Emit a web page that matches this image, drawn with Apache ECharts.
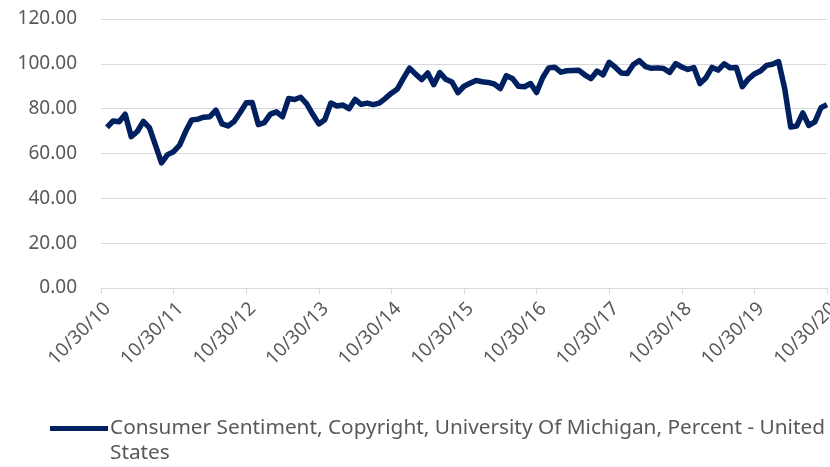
<!DOCTYPE html>
<html>
<head>
    <meta charset="utf-8"/>
    <title>Consumer Sentiment</title>
    <script src="https://cdn.jsdelivr.net/npm/echarts@6/dist/echarts.min.js"></script>
    <style>
        html, body { margin: 0; padding: 0; background: #fff; }
        #chart { width: 830px; height: 467px; }
    </style>
</head>
<body>
<div id="chart"></div>
<script>
    // monthly values, Nov 2010 .. Oct 2020
    var v2010 = [71.6, 74.5];
    var v2011 = [74.2, 77.5, 67.5, 69.8, 74.3, 71.5, 63.7, 55.8, 59.5, 60.8, 63.7, 69.9];
    var v2012 = [75.0, 75.3, 76.2, 76.4, 79.3, 73.2, 72.3, 74.3, 78.3, 82.6, 82.7, 72.9];
    var v2013 = [73.8, 77.6, 78.6, 76.4, 84.5, 84.1, 85.1, 82.1, 77.5, 73.2, 75.1, 82.5];
    var v2014 = [81.2, 81.6, 80.0, 84.1, 81.9, 82.5, 81.8, 82.5, 84.6, 86.9, 88.8, 93.6];
    var v2015 = [98.1, 95.4, 93.0, 95.9, 90.7, 96.1, 93.1, 91.9, 87.2, 90.0, 91.3, 92.6];
    var v2016 = [92.0, 91.7, 91.0, 89.0, 94.7, 93.5, 90.0, 89.8, 91.2, 87.2, 93.8, 98.2];
    var v2017 = [98.5, 96.3, 96.9, 97.0, 97.1, 95.0, 93.4, 96.8, 95.1, 100.7, 98.5, 95.9];
    var v2018 = [95.7, 99.7, 101.4, 98.8, 98.0, 98.2, 97.9, 96.2, 100.1, 98.6, 97.5, 98.3];
    var v2019 = [91.2, 93.8, 98.4, 97.2, 100.0, 98.2, 98.4, 89.8, 93.2, 95.5, 96.8, 99.3];
    var v2020 = [99.8, 101.0, 89.1, 71.8, 72.3, 78.1, 72.5, 74.1, 80.4, 81.8];

    var years = ['10', '11', '12', '13', '14', '15', '16', '17', '18', '19', '20'];
    var seriesName = 'Consumer Sentiment, Copyright, University Of Michigan, Percent - United States';

    // axis runs Oct 2010 .. Oct 2020, first month has no value
    var cats = [];
    for (var y = 0; y < years.length; y++) {
        for (var m = 1; m <= 12; m++) {
            if (y === 0 && m < 10) continue;
            if (y === years.length - 1 && m > 10) continue;
            cats.push(m + '/30/' + years[y]);
        }
    }
    var values = [null].concat(v2010, v2011, v2012, v2013, v2014, v2015,
        v2016, v2017, v2018, v2019, v2020);

    var font = 'Noto Sans';
    var gray = '#595959';
    var showYear = function (i) { return i % 12 === 0; };

    var chart = echarts.init(document.getElementById('chart'));
    chart.setOption({
        animation: false,
        textStyle: { fontFamily: font },
        grid: { left: 101, right: 3, top: 19, bottom: 179, outerBoundsMode: 'none' },
        legend: {
            data: [seriesName],
            left: 50,
            top: 418,
            padding: 0,
            icon: 'rect',
            itemWidth: 58,
            itemHeight: 5,
            itemGap: 0,
            formatter: function () {
                return 'Consumer Sentiment, Copyright, University Of Michigan, Percent - United';
            },
            textStyle: { color: gray, fontSize: 20.8, fontFamily: font, padding: [0, 0, 0, -3] }
        },
        // wrapped second line of the legend label
        graphic: [{
            type: 'text',
            left: 110,
            top: 443,
            style: { text: 'States', fill: gray, fontSize: 20.8, fontFamily: font }
        }],
        xAxis: {
            type: 'category',
            data: cats,
            boundaryGap: false,
            axisLine: { lineStyle: { color: '#d9d9d9', width: 1 } },
            axisTick: { interval: showYear, length: 6, lineStyle: { color: '#d9d9d9' } },
            axisLabel: {
                interval: showYear,
                rotate: 45,
                margin: 11,
                verticalAlign: 'top',
                color: gray,
                fontSize: 19,
                fontFamily: font
            },
            splitLine: { show: false }
        },
        yAxis: {
            type: 'value',
            min: 0,
            max: 120,
            interval: 20,
            axisLine: { show: false },
            axisTick: { show: false },
            axisLabel: {
                margin: 24,
                color: gray,
                fontSize: 19,
                fontFamily: font,
                formatter: function (v) { return v.toFixed(2); }
            },
            splitLine: { lineStyle: { color: '#d9d9d9', width: 1 } }
        },
        series: [{
            name: seriesName,
            type: 'line',
            data: values,
            showSymbol: false,
            symbol: 'none',
            lineStyle: { color: '#002060', width: 5.5, join: 'round' },
            itemStyle: { color: '#002060' }
        }]
    });
</script>
</body>
</html>
